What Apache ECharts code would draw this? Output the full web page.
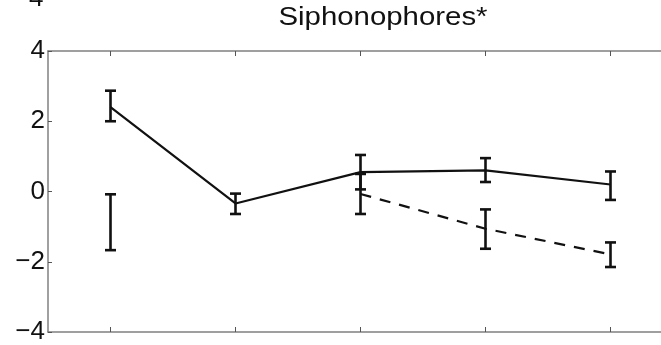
<!DOCTYPE html>
<html>
<head>
<meta charset="utf-8">
<script src="https://cdn.jsdelivr.net/npm/echarts@6/dist/echarts.min.js"></script>
<style>html,body{margin:0;padding:0;background:#fff;}#c{width:661px;height:345px;}</style>
</head>
<body>
<div id="c"></div>
<script>
var categories = [1, 2, 3, 4, 5];
var solidMean = [2.40, -0.34, 0.55, 0.60, 0.20];
var solidLow  = [2.00, -0.64, 0.06, 0.27, -0.24];
var solidHigh = [2.87, -0.06, 1.04, 0.95, 0.57];
var dashedMean = [-0.87, null, -0.07, -1.06, -1.79];
var dashedLow  = [-1.67, null, -0.64, -1.63, -2.15];
var dashedHigh = [-0.08, null, 0.50, -0.51, -1.45];
var yTicks = [-4, -2, 0, 2, 4];
var titleText = 'Siphonophores*';

function pairs(vals) {
  return categories.map(function (c, i) { return [c, vals[i]]; });
}
function errData(low, high) {
  var out = [];
  for (var i = 0; i < categories.length; i++) {
    if (low[i] != null) out.push([categories[i], low[i], high[i]]);
  }
  return out;
}
function errRender(params, api) {
  var x = api.value(0);
  var lo = api.coord([x, api.value(1)]);
  var hi = api.coord([x, api.value(2)]);
  var hw = 5.5;
  var st = {stroke: '#111', lineWidth: 2.6};
  return {type: 'group', children: [
    {type: 'line', shape: {x1: lo[0], y1: lo[1], x2: hi[0], y2: hi[1]}, style: st},
    {type: 'line', shape: {x1: lo[0]-hw, y1: lo[1], x2: lo[0]+hw, y2: lo[1]}, style: st},
    {type: 'line', shape: {x1: hi[0]-hw, y1: hi[1], x2: hi[0]+hw, y2: hi[1]}, style: st}
  ]};
}
var chart = echarts.init(document.getElementById('c'), null, {renderer: 'canvas'});
var font = '"Liberation Sans", Arial, sans-serif';
var xMax = 0.5 + 613 / 125;
function xAxisCfg(pos) {
  return {type: 'value', min: 0.5, max: xMax, position: pos,
    axisLine: {onZero: false, lineStyle: {color: '#808080', width: 1.5}},
    axisTick: {inside: true, length: 5, customValues: categories, lineStyle: {color: '#555', width: 1}},
    axisLabel: {show: false}, splitLine: {show: false}};
}
chart.setOption({
  animation: false,
  backgroundColor: '#fff',
  graphic: [
    {type: 'text', x: 383, y: 5, scaleX: 1.13, originX: 0,
     style: {text: titleText, font: '26px ' + font, fill: '#111', textAlign: 'center', textVerticalAlign: 'top'}},
    {type: 'text', x: 29, y: 12, style: {text: '4', font: '26px ' + font, fill: '#111', textVerticalAlign: 'bottom'}}
  ],
  grid: {left: 48, top: 51, right: 0, height: 284, containLabel: false},
  xAxis: [xAxisCfg('bottom'), xAxisCfg('top')],
  yAxis: {type: 'value', min: yTicks[0], max: yTicks[yTicks.length-1], interval: 2,
    axisLine: {show: true, lineStyle: {color: '#808080', width: 1.5}},
    axisTick: {show: true, inside: true, length: 4, lineStyle: {color: '#555'}},
    splitLine: {show: false},
    axisLabel: {fontSize: 26, fontFamily: font, color: '#111', margin: 3,
      formatter: function (v) { return String(v).replace('-', '\u2212'); }}
  },
  series: [
    {type: 'line', data: pairs(solidMean), symbol: 'none', lineStyle: {color: '#111', width: 2.2}, z: 3},
    {type: 'line', data: pairs(dashedMean), symbol: 'none', connectNulls: false,
     lineStyle: {color: '#111', width: 2.2, type: [11, 9]}, z: 3},
    {type: 'custom', renderItem: errRender, data: errData(solidLow, solidHigh), z: 4},
    {type: 'custom', renderItem: errRender, data: errData(dashedLow, dashedHigh), z: 4}
  ]
});
</script>
</body>
</html>
